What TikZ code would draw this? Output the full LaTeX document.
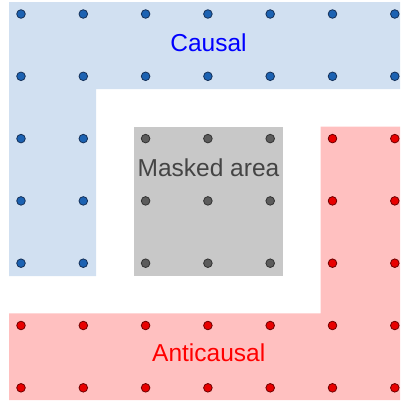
\documentclass[tikz,border=0pt]{standalone}
\usepackage{fontspec}
\setmainfont{Liberation Sans}
\definecolor{causalfill}{RGB}{209,224,241}
\definecolor{maskfill}{RGB}{200,200,200}
\definecolor{anticausalfill}{RGB}{255,192,192}
\definecolor{causaldotc}{RGB}{28,98,178}
\definecolor{causalline}{RGB}{20,48,88}
\definecolor{maskdotc}{RGB}{92,92,92}
\definecolor{maskline}{RGB}{50,50,50}
\definecolor{anticausaldotc}{RGB}{232,0,0}
\definecolor{anticausalline}{RGB}{110,0,0}
\definecolor{masktext}{RGB}{68,68,68}
\begin{document}
\begin{tikzpicture}[x=1pt,y=-1pt,
    dot/.style={circle,inner sep=0pt,minimum size=8.6pt,line width=0.8pt},
    causaldot/.style={dot,fill=causaldotc,draw=causalline},
    maskdot/.style={dot,fill=maskdotc,draw=maskline},
    anticausaldot/.style={dot,fill=anticausaldotc,draw=anticausalline},
    region label/.style={anchor=base,inner sep=0pt,font=\fontsize{24.5}{28}\selectfont}]
    \useasboundingbox (0,0) rectangle (400,402);
    % regions
    \fill[causalfill] (9,2) -- (400,2) -- (400,89) -- (96,89) -- (96,276) -- (9,276) -- cycle;
    \fill[maskfill] (133.5,126.7) rectangle (282.7,276);
    \fill[anticausalfill] (320.7,126.7) -- (400,126.7) -- (400,400) -- (9,400) -- (9,313.3) -- (320.7,313.3) -- cycle;
    % dots
    \foreach \i in {0,...,6} {
        \foreach \j in {0,1}
            \node[causaldot] (d-\i-\j) at ({21+62.3*\i},{14+62.3*\j}) {};
        \foreach \j in {5,6}
            \node[anticausaldot] (d-\i-\j) at ({21+62.3*\i},{14+62.3*\j}) {};
    }
    \foreach \j in {2,3,4} {
        \foreach \i in {0,1}
            \node[causaldot] (d-\i-\j) at ({21+62.3*\i},{14+62.3*\j}) {};
        \foreach \i in {2,3,4}
            \node[maskdot] (d-\i-\j) at ({21+62.3*\i},{14+62.3*\j}) {};
        \foreach \i in {5,6}
            \node[anticausaldot] (d-\i-\j) at ({21+62.3*\i},{14+62.3*\j}) {};
    }
    % labels
    \node[region label,text=blue] (causal) at (208.5,51.7) {Causal};
    \node[region label,text=masktext] (masked) at (208.5,176.5) {Masked area};
    \node[region label,text=red] (anticausal) at (208.7,361.7) {Anticausal};
\end{tikzpicture}
\end{document}
